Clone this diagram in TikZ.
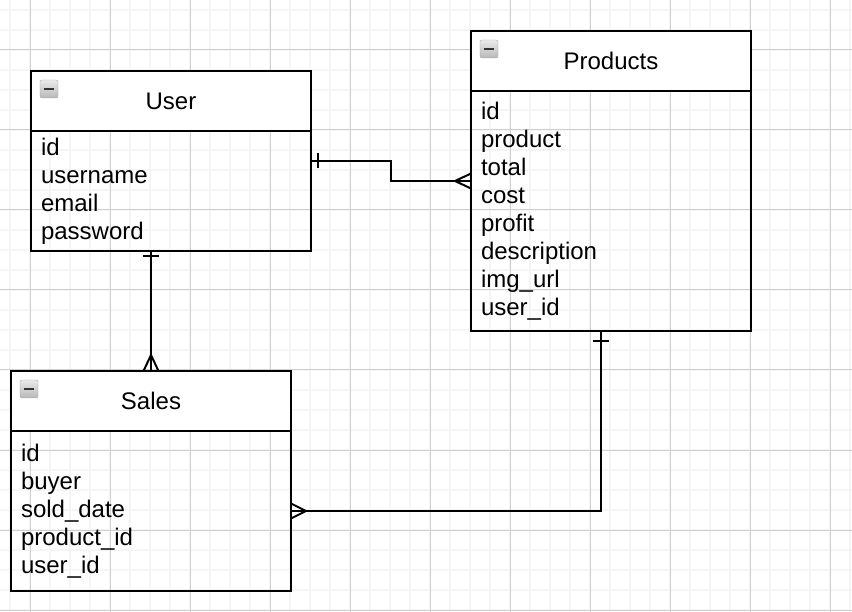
\documentclass[tikz,border=0pt]{standalone}
\usepackage{fontspec}
\setmainfont{Liberation Sans}
\usetikzlibrary{positioning,calc}
\newcommand\erfont{\fontsize{24}{28}\selectfont}

\begin{document}
\begin{tikzpicture}[x=1pt,y=-1pt,
  minorline/.style={line width=1.6pt,black!4},
  majorline/.style={line width=1pt,black!19},
  head/.style={draw,fill=white,line width=2pt,outer sep=0pt,inner sep=0pt,minimum width=280pt,minimum height=60pt,font=\erfont},
  fields/.style={draw,line width=2pt,outer sep=0pt,inner xsep=10pt,inner ysep=0pt,text width=260pt,align=left,font=\erfont},
  icon/.style={draw=black!35,rounded corners=2pt,top color=black!8,bottom color=black!28,minimum size=18pt,inner sep=0pt,
    path picture={\draw[line width=2.6pt,black!80] ([xshift=-5pt]path picture bounding box.center) -- ([xshift=5pt]path picture bounding box.center);}},
  rel/.style={line width=2pt}
]
\useasboundingbox (0,0) rectangle (852,612);
\fill[white] (0,0) rectangle (852,612);

% grid
\foreach \x in {10,30,...,850} \draw[minorline] (\x,0) -- (\x,612);
\foreach \y in {10,30,...,610} \draw[minorline] (0,\y) -- (852,\y);
\foreach \x in {30,110,...,830} \draw[majorline] (\x,0) -- (\x,612);
\foreach \y in {50,130,...,610} \draw[majorline] (0,\y) -- (852,\y);

% tables
\node[head] (userhead) at (171,101) {User};
\node[fields,minimum height=120pt,below=0pt of userhead] (user) {id\\username\\email\\password};

\node[head] (prodhead) at (611,61) {Products};
\node[fields,minimum height=240pt,below=0pt of prodhead] (products) {id\\product\\total\\cost\\profit\\description\\img\_url\\user\_id};

\node[head] (saleshead) at (151,401) {Sales};
\node[fields,minimum height=160pt,below=0pt of saleshead] (sales) {id\\buyer\\sold\_date\\product\_id\\user\_id};

\node[icon] (usericon) at ([shift={(18pt,-18pt)}]userhead.north west) {};
\node[icon] (prodicon) at ([shift={(18pt,-18pt)}]prodhead.north west) {};
\node[icon] (salesicon) at ([shift={(18pt,-18pt)}]saleshead.north west) {};

% user -- products
\coordinate (u1) at ([yshift=-30pt]user.north east);
\coordinate (p1) at ([yshift=-90pt]products.north west);
\draw[rel] (u1) -- ++(80,0) |- (p1);
\draw[rel] ([xshift=7pt]u1) ++(0,-7.5) -- ++(0,15);
\draw[rel] (p1) ++(0,-7.5) -- ++(-16,7.5) -- ++(16,7.5);

% user -- sales
\coordinate (u2) at (user.south -| saleshead.north);
\draw[rel] (u2) -- (saleshead.north);
\draw[rel] ([yshift=-5pt]u2) ++(-8,0) -- ++(16,0);
\draw[rel] ([xshift=-7.5pt]saleshead.north) -- ++(7.5,-16) -- ++(7.5,16);

% products -- sales
\coordinate (p3) at ([xshift=-10pt]products.south);
\draw[rel] (sales.east) -| (p3);
\draw[rel] ([yshift=-10pt]p3) ++(-8,0) -- ++(16,0);
\draw[rel] ([yshift=7.5pt]sales.east) -- ++(15,7.5) -- ++(-15,7.5);
\end{tikzpicture}
\end{document}
